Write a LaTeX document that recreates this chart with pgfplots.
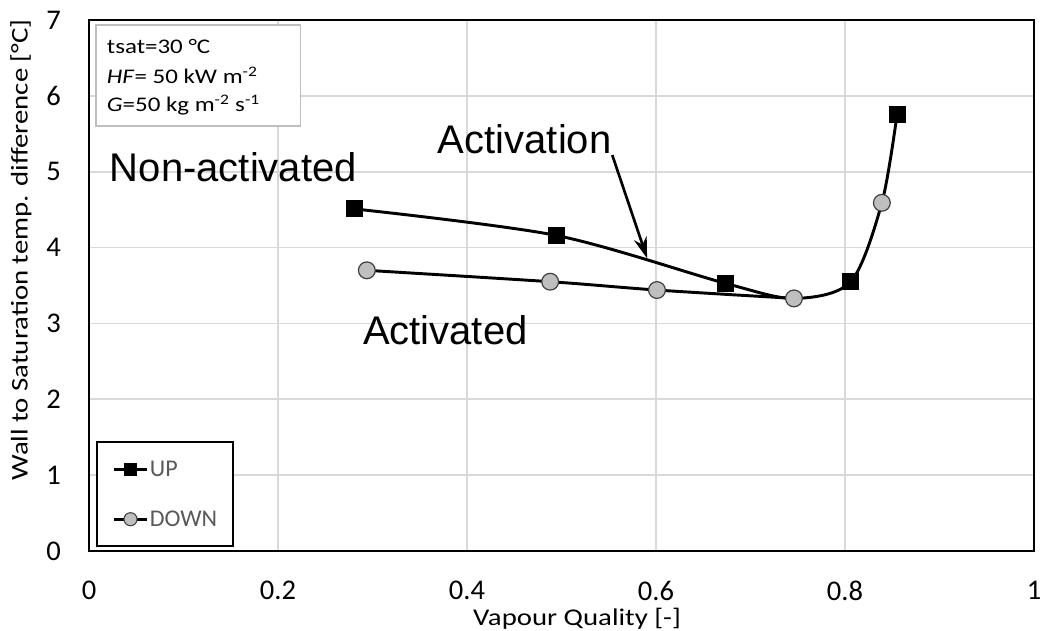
\documentclass[border=0pt]{standalone}
\usepackage{fontspec}
\setmainfont{Carlito}
\newfontfamily\stretchfont[FakeStretch=1.2]{Carlito}
\newfontfamily\arialfont{Liberation Sans}
\usepackage{pgfplots}
\pgfplotsset{compat=1.18}
\usetikzlibrary{arrows.meta}
\definecolor{gridgray}{HTML}{D9D9D9}
\definecolor{circfill}{HTML}{BFBFBF}
\definecolor{legtext}{HTML}{595959}
\definecolor{boxgray}{HTML}{BFBFBF}
\definecolor{circdraw}{HTML}{404040}

\pgfplotstableread{
x y
0.2805 4.51
0.4945 4.16
0.673 3.53
0.746 3.33
0.806 3.55
0.839 4.59
0.855 5.75
}\uplinedata
\pgfplotstableread{
x y
0.2805 4.51
0.4945 4.16
0.673 3.53
0.806 3.55
0.855 5.75
}\upmarkdata
\pgfplotstableread{
x y
0.294 3.70
0.488 3.55
0.601 3.44
0.746 3.33
}\downlinedata
\pgfplotstableread{
x y
0.294 3.70
0.488 3.55
0.601 3.44
0.746 3.33
0.839 4.59
}\downmarkdata

\begin{document}
\begin{tikzpicture}
\useasboundingbox (-66.75pt,-60pt) rectangle (714pt,413.25pt);
\begin{axis}[
  scale only axis, width=708.75pt, height=398.25pt,
  xmin=0, xmax=1, ymin=0, ymax=7,
  xtick={0,0.2,0.4,0.6,0.8,1}, ytick={0,1,2,3,4,5,6,7},
  grid=major, major grid style={draw=gridgray, line width=1.2pt},
  major tick length=0pt,
  axis line style={black, line width=1.2pt},
  /pgf/number format/assume math mode=true,
  tick label style={font=\fontsize{21.4}{24}\selectfont, inner sep=0pt, black},
  xticklabel style={yshift=-22.3pt},
  yticklabel style={xshift=-21pt},
  xlabel={Vapour Quality [-]},
  ylabel={Wall to Saturation temp. difference [°C]},
  label style={font=\stretchfont\fontsize{18}{20}\selectfont, inner sep=0pt},
  xlabel style={at={(axis description cs:0.5165,-0.1073)}, anchor=north},
  ylabel style={at={(axis description cs:-0.0836,0.567)}, anchor=north},
  legend image code/.code={
    \draw[#1,mark repeat=2,mark phase=2] plot coordinates {(0pt,0pt) (12.5pt,0pt) (25pt,0pt)};
  },
  legend cell align=left,
  legend style={at={(axis description cs:0.0074,0.0075)}, anchor=south west,
    draw=black, line width=1.2pt, fill=white,
    inner xsep=11.8pt, inner ysep=12.75pt, row sep=22.5pt,
    font=\fontsize{18}{20}\selectfont, text=legtext,
    nodes={inner sep=0pt, text height=13pt, text depth=2pt},
    /tikz/every odd column/.append style={column sep=1pt}},
]
% info box
\draw[boxgray, line width=1.2pt, fill=white] (axis cs:0.0074,5.602) rectangle (axis cs:0.2236,6.934);
\node[anchor=base west, inner sep=0pt, font=\stretchfont\fontsize{15.6}{18}\selectfont] at (axis cs:0.0187,6.561) {tsat=30 °C};
\node[anchor=base west, inner sep=0pt, font=\stretchfont\fontsize{15.6}{18}\selectfont] at (axis cs:0.0187,6.165) {\textit{HF}= 50 kW m\textsuperscript{-2}};
\node[anchor=base west, inner sep=0pt, font=\stretchfont\fontsize{15.6}{18}\selectfont] at (axis cs:0.0187,5.791) {\textit{G}=50 kg m\textsuperscript{-2} s\textsuperscript{-1}};

% lines
\addplot[black, line width=2.2pt, smooth, tension=0.5, no marks, forget plot] table {\uplinedata};
\addplot[black, line width=2.2pt, smooth, tension=0.5, no marks, forget plot] table {\downlinedata};
% marks
\addplot[only marks, mark=square*, mark size=6pt, mark options={fill=black, draw=black, line width=0.6pt}, forget plot] table {\upmarkdata};
\addplot[only marks, mark=*, mark size=6.3pt, mark options={fill=circfill, draw=circdraw, line width=0.9pt}, forget plot] table {\downmarkdata};

\addlegendimage{black, line width=2pt, mark=square*, mark size=4.5pt, mark options={fill=black, draw=black, line width=0.5pt}}
\addlegendentry{UP}
\addlegendimage{black, line width=2pt, mark=*, mark size=4.9pt, mark options={fill=circfill, draw=circdraw, line width=0.8pt}}
\addlegendentry{DOWN}

% annotations
\node[anchor=base west, inner sep=0pt, font=\arialfont\fontsize{30}{36}\selectfont] at (axis cs:0.0219,4.868) {Non-activated};
\node[anchor=base west, inner sep=0pt, font=\arialfont\fontsize{30}{36}\selectfont] at (axis cs:0.369,5.243) {Activation};
\node[anchor=base west, inner sep=0pt, font=\arialfont\fontsize{30}{36}\selectfont] at (axis cs:0.2897,2.716) {Activated};
\draw[line width=2pt, -{Stealth[length=16pt, width=10pt]}] (axis cs:0.5537,5.22) -- (axis cs:0.5906,3.858);
\end{axis}
\end{tikzpicture}
\end{document}
